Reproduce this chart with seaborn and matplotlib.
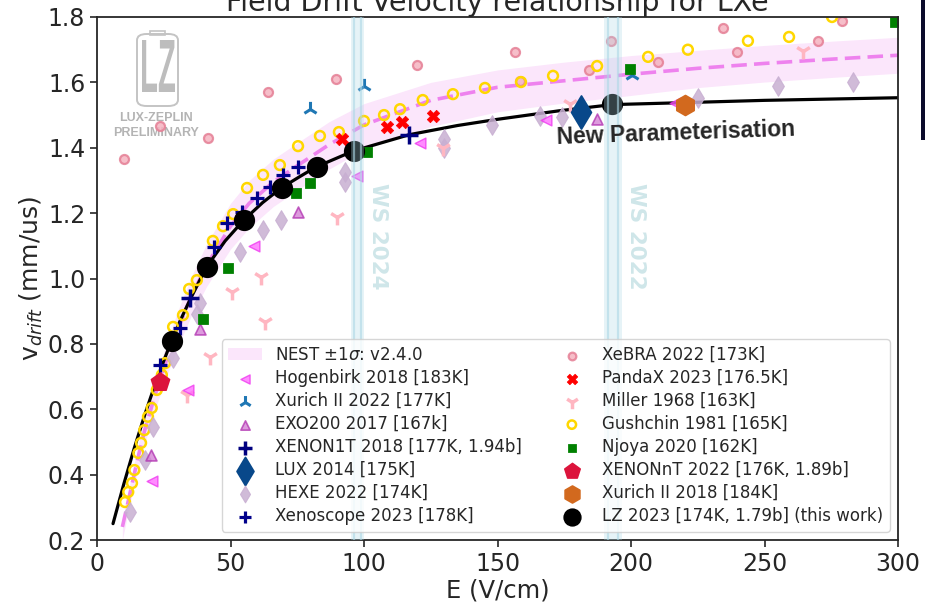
import numpy as np
import matplotlib
matplotlib.use("Agg")
import matplotlib.pyplot as plt
import seaborn as sns
from matplotlib.patches import FancyBboxPatch, PathPatch, Rectangle
from matplotlib.textpath import TextPath
from matplotlib.font_manager import FontProperties
from matplotlib.transforms import Affine2D

# ---- data ----
# new parameterisation (black curve)
fit_E = [6, 10, 14, 18, 22, 25, 28, 31, 35, 41, 48, 55, 62, 69, 76, 82, 96, 117, 135, 150, 173, 193, 220, 250, 275, 300]
fit_v = [0.25, 0.37, 0.482, 0.586, 0.682, 0.748, 0.811, 0.868, 0.938, 1.035, 1.115, 1.179, 1.232, 1.277, 1.312, 1.341,
         1.39, 1.44, 1.468, 1.487, 1.513, 1.532, 1.538, 1.545, 1.549, 1.553]

# NEST v2.4.0 central value and +-1 sigma
nest_E = [9.5, 12, 15, 18, 22, 26, 30, 35, 41, 50, 57, 66, 75, 87, 100, 125, 150, 175, 200, 225, 250, 275, 300]
nest_v = [0.24, 0.33, 0.44, 0.54, 0.65, 0.75, 0.84, 0.94, 1.04, 1.16, 1.23, 1.295, 1.345, 1.41, 1.47, 1.545, 1.585,
          1.605, 1.625, 1.643, 1.658, 1.671, 1.683]
nest_lo = [0.20, 0.30, 0.405, 0.50, 0.605, 0.70, 0.785, 0.88, 0.975, 1.09, 1.155, 1.22, 1.27, 1.335, 1.395, 1.465,
           1.51, 1.537, 1.56, 1.584, 1.601, 1.615, 1.628]
nest_hi = [0.26, 0.36, 0.475, 0.58, 0.695, 0.80, 0.895, 1.00, 1.105, 1.23, 1.30, 1.365, 1.415, 1.48, 1.535, 1.60,
           1.638, 1.662, 1.682, 1.698, 1.713, 1.726, 1.738]

lz_E = [28.1, 41.2, 55.0, 69.3, 82.4, 96.3, 192.9]
lz_v = [0.809, 1.035, 1.179, 1.277, 1.341, 1.390, 1.534]

xebra_E = [10.1, 23.6, 41.6, 64.0, 89.5, 120.0, 156.6, 158.4, 184.3, 192.5, 210.0, 234.5, 239.7, 270.0, 279.0]
xebra_v = [1.365, 1.466, 1.430, 1.570, 1.610, 1.653, 1.693, 1.604, 1.638, 1.727, 1.662, 1.766, 1.693, 1.727, 1.788]

gush_E = [10.5, 11.7, 13.1, 14.0, 15.5, 16.5, 17.7, 19.1, 20.5, 22.4, 24.3, 25.5, 28.5, 32.2, 34.5, 37.4, 43.4, 47.2,
          51.0, 56.2, 62.2, 68.5, 75.3, 83.5, 90.6, 100.0, 107.5, 113.5, 122.0, 133.3, 145.3, 158.8, 170.8, 187.3,
          206.4, 221.3, 243.8, 259.2, 275.3]
gush_v = [0.316, 0.347, 0.374, 0.414, 0.466, 0.497, 0.536, 0.577, 0.604, 0.659, 0.705, 0.741, 0.852, 0.888, 0.968,
          0.995, 1.115, 1.160, 1.197, 1.277, 1.317, 1.347, 1.405, 1.436, 1.448, 1.482, 1.500, 1.518, 1.546, 1.564,
          1.583, 1.601, 1.620, 1.650, 1.678, 1.700, 1.727, 1.739, 1.800]

hogen_E = [20.6, 34.1, 58.8, 97.4, 121.0, 168.2, 216.5]
hogen_v = [0.380, 0.659, 1.099, 1.313, 1.414, 1.485, 1.537]

xur22_E = [79.8, 100.0, 200.2]
xur22_v = [1.518, 1.589, 1.622]

exo_E = [20.2, 38.6, 75.3, 187.2]
exo_v = [0.460, 0.845, 1.203, 1.489]

x1t_E = [34.8, 116.8]
x1t_v = [0.940, 1.439]

xscope_E = [23.6, 31.1, 43.8, 48.8, 54.2, 59.8, 64.8, 69.8, 75.4]
xscope_v = [0.735, 0.849, 1.096, 1.169, 1.204, 1.245, 1.281, 1.317, 1.342]

lux_E = [181.1]
lux_v = [1.510]

hexe_E = [12.4, 18.0, 21.0, 28.5, 37.5, 38.6, 53.6, 62.2, 68.9, 92.9, 92.9, 130.0, 130.0, 148.0, 166.0, 174.0,
          225.0, 255.2, 283.0]
hexe_v = [0.287, 0.445, 0.546, 0.757, 0.890, 0.925, 1.081, 1.148, 1.179, 1.326, 1.295, 1.427, 1.400, 1.469, 1.497,
          1.493, 1.551, 1.590, 1.600]

njoya_E = [39.7, 49.0, 74.5, 79.8, 101.0, 199.6, 299.0]
njoya_v = [0.876, 1.032, 1.262, 1.292, 1.387, 1.641, 1.785]

panda_E = [91.7, 108.6, 114.2, 125.8]
panda_v = [1.427, 1.463, 1.479, 1.497]

miller_E = [33.7, 42.3, 50.6, 61.4, 62.9, 89.9, 129.6, 177.2, 264.5]
miller_v = [0.644, 0.760, 0.959, 1.004, 0.867, 1.188, 1.399, 1.534, 1.696]

xnt_E = [23.6]
xnt_v = [0.683]

xur18_E = [220.2]
xur18_v = [1.531]

# science-run field bands
ws_lo = [95.1, 190.0]
ws_hi = [100.1, 196.5]
ws_names = ["WS 2024", "WS 2022"]

# ---- plot ----
sns.set_style("ticks")
plt.rcParams["font.family"] = ["DejaVu Sans"]

fig = plt.figure(figsize=(9.25, 6.09), dpi=100)
ax = fig.add_axes([97 / 925, 69 / 609, 801 / 925, 523 / 609])

ax.fill_between(nest_E, nest_lo, nest_hi, color="violet", alpha=0.2, lw=0, zorder=1,
                label="NEST ±1$\\sigma$: v2.4.0")
sns.lineplot(x=nest_E, y=nest_v, ax=ax, color="violet", lw=2.6, linestyle=(0, (4.3, 2.0)), zorder=1.5)
sns.lineplot(x=fit_E, y=fit_v, ax=ax, color="black", lw=2.3, zorder=1.6)

def pts(E, v, label, marker, s, z=2, **kw):
    sns.scatterplot(x=E, y=v, ax=ax, marker=marker, s=s, label=label, zorder=z, **kw)

pts(xebra_E, xebra_v, "XeBRA 2022 [173K]", "o", 42, facecolor="#f5b3c0", edgecolor="#e57f95", linewidth=1.6, alpha=0.85)
pts(gush_E, gush_v, "Gushchin 1981 [165K]", "o", 50, facecolor="none", edgecolor="gold", linewidth=1.8)
pts(hexe_E, hexe_v, "HEXE 2022 [174K]", "d", 100, color="#c8afd2", edgecolor="#c8afd2", alpha=0.85)
pts(miller_E, miller_v, "Miller 1968 [163K]", "1", 130, color="#ffb6c1", linewidth=2.5)
pts(hogen_E, hogen_v, "Hogenbirk 2018 [183K]", "<", 60, color="#ff66ff", edgecolor="#ee33ee", linewidth=1.0, alpha=0.75)
pts(exo_E, exo_v, "EXO200 2017 [167k]", "^", 62, color="#d27ad2", edgecolor="#b030b0", linewidth=1.2, alpha=0.75)
pts(xur22_E, xur22_v, "Xurich II 2022 [177K]", "2", 120, color="#1f77b4", linewidth=2.2)
pts(njoya_E, njoya_v, "Njoya 2020 [162K]", "s", 50, color="green", edgecolor="green")
pts(panda_E, panda_v, "PandaX 2023 [176.5K]", "X", 80, color="red", edgecolor="red", linewidth=0.5)
pts(xscope_E, xscope_v, "Xenoscope 2023 [178K]", "+", 90, color="#00008b", linewidth=2.3)
pts(x1t_E, x1t_v, "XENON1T 2018 [177K, 1.94b]", "+", 150, color="#000080", linewidth=2.5)
pts(xnt_E, xnt_v, "XENONnT 2022 [176K, 1.89b]", "p", 190, color="#dc143c", edgecolor="#dc143c", z=3)
pts(lux_E, lux_v, "LUX 2014 [175K]", "d", 280, color="#08488a", edgecolor="#08488a", z=3)
pts(xur18_E, xur18_v, "Xurich II 2018 [184K]", "h", 210, color="#d2691e", edgecolor="#d2691e", z=3)
pts(lz_E, lz_v, "LZ 2023 [174K, 1.79b] (this work)", "o", 200, color="black", edgecolor="black", z=3.5)

for lo, hi, name in zip(ws_lo, ws_hi, ws_names):
    ax.axvspan(lo, hi, color="lightblue", alpha=0.3, lw=0, zorder=4)
    w = hi - lo
    for xl in (lo + 0.22 * w, hi - 0.22 * w):
        ax.axvline(xl, color="lightblue", alpha=0.6, lw=1.6, zorder=4)
    ax.text(hi + 1.5, 1.13, name, rotation=-90, ha="left", va="center", fontsize=15.5,
            fontweight="bold", color="#cfe6e9", zorder=4)

ax.text(172.3, 1.412, "New Parameterisation", fontsize=16.5, fontweight="bold",
        family=["Liberation Sans", "DejaVu Sans"], rotation=2, rotation_mode="anchor",
        ha="left", va="baseline", zorder=5)

# LZ logo
logo_col = "#c4c4c4"
ax.add_patch(FancyBboxPatch(((137 - 97) / 801, (540 - 106) / 523), 41 / 801, 72 / 523,
                            boxstyle="round,pad=0,rounding_size=0.012", transform=ax.transAxes,
                            facecolor="none", edgecolor=logo_col, lw=1.4, zorder=0.5))
ax.add_patch(Rectangle(((150 - 97) / 801, (540 - 35) / 523), 15 / 801, 4 / 523, transform=ax.transAxes,
                       facecolor="none", edgecolor=logo_col, lw=1.2, zorder=0.5))
tp = TextPath((0, 0), "LZ", size=1, prop=FontProperties(family="Liberation Sans", weight="bold"))
bb = tp.get_extents()
tr = Affine2D().translate(-bb.x0, -bb.y0).scale(33 / 801 / bb.width, 52 / 523 / bb.height) \
    .translate((142 - 97) / 801, (540 - 92) / 523) + ax.transAxes
ax.add_patch(PathPatch(tp, transform=tr, facecolor="#bdbdbd", edgecolor="none", zorder=0.5))
ax.text(0.0737, 0.807, "LUX-ZEPLIN", transform=ax.transAxes, ha="center", va="center", fontsize=9,
        fontweight="bold", family=["Liberation Sans", "DejaVu Sans"], color="#b4b4b4", zorder=0.5)
ax.text(0.0737, 0.778, "PRELIMINARY", transform=ax.transAxes, ha="center", va="center", fontsize=9,
        fontweight="bold", family=["Liberation Sans", "DejaVu Sans"], color="#b4b4b4", zorder=0.5)

ax.set_xlim(0, 300)
ax.set_ylim(0.2, 1.8)
ax.set_xticks(np.arange(0, 301, 50))
ax.set_yticks(np.round(np.arange(0.2, 1.81, 0.2), 1))
ax.tick_params(labelsize=17, length=5, width=1.2)
for sp in ax.spines.values():
    sp.set_linewidth(1.3)
ax.set_xlabel("E (V/cm)", fontsize=17.5, labelpad=2)
ax.set_ylabel("v$_{drift}$ (mm/us)", fontsize=18, labelpad=2)
ax.set_title("Field Drift Velocity relationship for LXe", fontsize=20.5, pad=4)

order = ["NEST ±1$\\sigma$: v2.4.0", "Hogenbirk 2018 [183K]", "Xurich II 2022 [177K]", "EXO200 2017 [167k]",
         "XENON1T 2018 [177K, 1.94b]", "LUX 2014 [175K]", "HEXE 2022 [174K]", "Xenoscope 2023 [178K]",
         "XeBRA 2022 [173K]", "PandaX 2023 [176.5K]", "Miller 1968 [163K]", "Gushchin 1981 [165K]",
         "Njoya 2020 [162K]", "XENONnT 2022 [176K, 1.89b]", "Xurich II 2018 [184K]",
         "LZ 2023 [174K, 1.79b] (this work)"]
h, l = ax.get_legend_handles_labels()
hd = dict(zip(l, h))
leg = ax.legend([hd[k] for k in order], order, loc="lower right", ncol=2, fontsize=12,
                labelspacing=0.3, scatterpoints=1, markerscale=0.85)
leg.set_zorder(6)

fig.add_artist(Rectangle((921 / 925, 1 - 140 / 609), 4 / 925, 140 / 609, transform=fig.transFigure,
                         facecolor="#0b0b2b", edgecolor="none"))

fig.savefig("out.png", dpi=100)
